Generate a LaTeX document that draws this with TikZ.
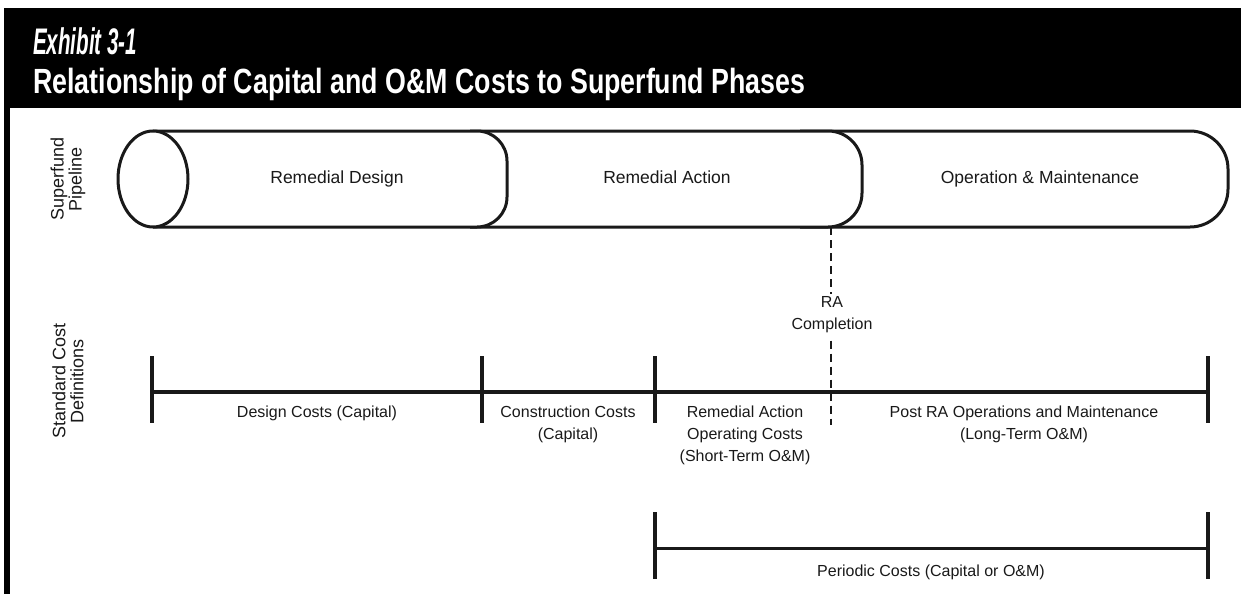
\documentclass[tikz,border=0pt]{standalone}
\usepackage{fontspec}
\usepackage{graphicx}
\setmainfont{Liberation Sans}
\begin{document}
\begin{tikzpicture}[x=1pt,y=-1pt,
 pipe/.style={draw=black!90,line width=3pt,fill=white},
 costbar/.style={draw=black!90,line width=4pt},
 costtick/.style={draw=black!90,line width=3.5pt},
 ralink/.style={draw=black!90,line width=1.5pt,dash pattern=on 8pt off 5pt},
 celltext/.style={align=center,inner sep=0pt,text=black!90}]
\newcommand{\mycostfont}{\fontsize{16}{22}\selectfont}
\newcommand{\mypipefont}{\fontsize{17.5}{22}\selectfont}
\newcommand{\mysidefont}{\fontsize{18}{18}\selectfont}
\newcommand{\mytitlefont}{\fontsize{35}{40}\selectfont\bfseries}
%Frame
\useasboundingbox (0,0) rectangle (1241,594);
\fill[black] (4,8) rectangle (1241,108);
\fill[black] (4,108) rectangle (10,594);
%Heading
\node[anchor=base west,inner sep=0pt,text=white] (exhibit) at (33,55) {\resizebox{104pt}{\height}{\fontsize{37}{40}\selectfont\bfseries\itshape Exhibit 3-1}};
\node[anchor=base west,inner sep=0pt,text=white] (title) at (33,93) {\resizebox{772pt}{\height}{\mytitlefont Relationship of Capital and O\&M Costs to Superfund Phases}};
%Side labels
\node[celltext,font=\mysidefont,rotate=90] (pipelbl) at (68,179) {Superfund\\Pipeline};
\node[celltext,font=\mysidefont,rotate=90] (costlbl) at (68,381) {Standard Cost\\Definitions};
%Pipeline segments, back to front
\draw[pipe,rounded corners=38pt] (800,131) -- (1228,131) -- (1228,227) -- (800,227);
\draw[pipe,rounded corners=34pt] (470,131) -- (862,131) -- (862,227) -- (470,227);
\draw[pipe,rounded corners=30pt] (153,131) -- (507,131) -- (507,227) -- (153,227);
\draw[pipe] (153,179) ellipse [x radius=35,y radius=48];
\node[celltext,font=\mypipefont,anchor=base] (design) at (337,183) {Remedial Design};
\node[celltext,font=\mypipefont,anchor=base] (action) at (667,183) {Remedial Action};
\node[celltext,font=\mypipefont,anchor=base] (operation) at (1040,183) {Operation \& Maintenance};
%RA completion marker
\coordinate (rabot) at (831,227);
\coordinate (raend) at (831,425);
\node[celltext,font=\mycostfont,anchor=north,inner sep=2pt] (racompl) at (832,294) {RA\\Completion};
\draw[ralink] (rabot) -- (rabot|-racompl.north);
\draw[ralink,shorten <=6pt] (rabot|-racompl.south) -- (raend);
%Standard cost row
\foreach \i/\x in {0/152,1/482,2/655,3/1208} {
 \coordinate (ct\i) at (\x,392);
 \draw[costtick] (\x,356) -- (\x,423);
}
\draw[costbar] (ct0) -- (ct3);
\node[celltext,font=\mycostfont,anchor=north] (designcost) at (317,406) {Design Costs (Capital)};
\node[celltext,font=\mycostfont,anchor=north] (constrcost) at (568,406) {Construction Costs\\(Capital)};
\node[celltext,font=\mycostfont,anchor=north] (racost) at (745,406) {Remedial Action\\Operating Costs\\(Short-Term O\&M)};
\node[celltext,font=\mycostfont,anchor=north] (postcost) at (1024,406) {Post RA Operations and Maintenance\\(Long-Term O\&M)};
%Periodic cost row
\foreach \i/\x in {0/655,1/1208} {
 \coordinate (pc\i) at (\x,548);
 \draw[costtick] (\x,512) -- (\x,579);
}
\draw[costbar,line width=3pt] (pc0) -- (pc1);
\node[celltext,font=\mycostfont,anchor=north] (periodic) at (931,565) {Periodic Costs (Capital or O\&M)};
\end{tikzpicture}
\end{document}
